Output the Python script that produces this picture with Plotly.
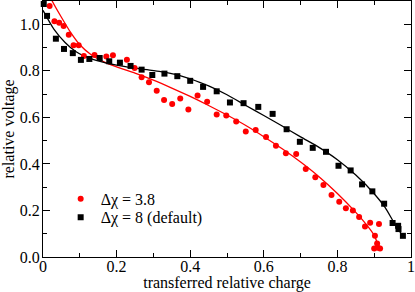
import plotly.graph_objects as go

# Data
red_x = [0.018, 0.031, 0.044, 0.056, 0.070, 0.083, 0.097, 0.111, 0.140, 0.172, 0.190,
         0.228, 0.249, 0.268, 0.288, 0.309, 0.329, 0.351, 0.373, 0.395, 0.420, 0.446,
         0.472, 0.498, 0.525, 0.551, 0.578, 0.606, 0.633, 0.660, 0.688, 0.714, 0.740,
         0.762, 0.784, 0.805, 0.823, 0.842, 0.859, 0.875, 0.889, 0.913, 0.902, 0.908,
         0.910, 0.900, 0.916]
red_y = [1.079, 1.013, 1.007, 0.993, 0.955, 0.910, 0.910, 0.864, 0.868, 0.861, 0.867,
         0.848, 0.812, 0.772, 0.751, 0.714, 0.675, 0.657, 0.681, 0.634, 0.694, 0.667,
         0.612, 0.608, 0.582, 0.539, 0.546, 0.516, 0.478, 0.446, 0.443, 0.378, 0.343,
         0.309, 0.266, 0.237, 0.209, 0.200, 0.172, 0.131, 0.147, 0.142, 0.091, 0.058,
         0.040, 0.037, 0.037]

black_x = [0.002, 0.011, 0.035, 0.057, 0.081, 0.103, 0.126, 0.154, 0.180, 0.209, 0.238,
           0.268, 0.297, 0.330, 0.365, 0.400, 0.435, 0.472, 0.508, 0.545, 0.585, 0.624,
           0.662, 0.698, 0.733, 0.769, 0.803, 0.836, 0.867, 0.895, 0.927, 0.950, 0.965,
           0.966, 0.978]
black_y = [1.087, 1.036, 0.938, 0.894, 0.876, 0.847, 0.851, 0.855, 0.841, 0.835, 0.821,
           0.805, 0.782, 0.788, 0.777, 0.757, 0.731, 0.712, 0.664, 0.661, 0.645, 0.615,
           0.549, 0.495, 0.469, 0.452, 0.392, 0.372, 0.312, 0.282, 0.229, 0.146, 0.134,
           0.120, 0.091]

red_fit_x = [0.015, 0.025, 0.05, 0.075, 0.10, 0.13, 0.16, 0.20, 0.25, 0.30, 0.35, 0.40,
             0.45, 0.50, 0.55, 0.60, 0.65, 0.70, 0.75, 0.80, 0.85, 0.88, 0.90, 0.912]
red_fit_y = [1.14, 1.10, 1.03, 0.965, 0.912, 0.87, 0.843, 0.817, 0.79, 0.76, 0.726, 0.69,
             0.651, 0.61, 0.566, 0.517, 0.465, 0.408, 0.345, 0.273, 0.192, 0.137, 0.093, 0.045]

black_fit_x = [0.0, 0.03, 0.06, 0.09, 0.13, 0.17, 0.22, 0.27, 0.32, 0.36, 0.40, 0.45,
               0.50, 0.55, 0.60, 0.65, 0.70, 0.75, 0.80, 0.85, 0.90, 0.93, 0.95, 0.965, 0.978]
black_fit_y = [1.06, 0.978, 0.922, 0.882, 0.852, 0.834, 0.819, 0.807, 0.797, 0.785, 0.765,
               0.735, 0.697, 0.652, 0.608, 0.563, 0.516, 0.471, 0.418, 0.352, 0.272, 0.212,
               0.158, 0.12, 0.09]

x_ticks = [0, 0.2, 0.4, 0.6, 0.8, 1]
x_tick_labels = ["0", "0.2", "0.4", "0.6", "0.8", "1"]
y_ticks = [0.0, 0.2, 0.4, 0.6, 0.8, 1.0]
y_tick_labels = ["0.0", "0.2", "0.4", "0.6", "0.8", "1.0"]

FONT = "Liberation Serif"

fig = go.Figure()
fig.add_trace(go.Scatter(x=red_fit_x, y=red_fit_y, mode="lines",
                         line=dict(color="#ff0000", width=1.3, shape="spline", smoothing=0.6),
                         showlegend=False, hoverinfo="skip"))
fig.add_trace(go.Scatter(x=black_fit_x, y=black_fit_y, mode="lines",
                         line=dict(color="#000000", width=1.3, shape="spline", smoothing=0.6),
                         showlegend=False, hoverinfo="skip"))
fig.add_trace(go.Scatter(x=red_x, y=red_y, mode="markers", name="Δχ = 3.8",
                         marker=dict(color="#ff0000", size=6, symbol="circle"),
                         cliponaxis=False, legend="legend"))
fig.add_trace(go.Scatter(x=black_x, y=black_y, mode="markers", name="Δχ = 8 (default)",
                         marker=dict(color="#000000", size=6, symbol="square"),
                         cliponaxis=False, legend="legend2"))

axis_common = dict(
    showline=True, linecolor="black", linewidth=1.2, mirror="ticks",
    ticks="inside", ticklen=7, tickwidth=1, tickcolor="black",
    showgrid=False, zeroline=False, automargin=False,
    tickfont=dict(family=FONT, size=16, color="black"),
    minor=dict(ticks="inside", ticklen=4, tickwidth=1, tickcolor="black", dtick=0.1),
)

fig.update_xaxes(range=[0, 1], tickvals=x_ticks, ticktext=x_tick_labels,
                 ticklabelstandoff=-5,
                 title=dict(text="transferred relative charge", standoff=4,
                            font=dict(family=FONT, size=16, color="black")),
                 **axis_common)
fig.update_yaxes(range=[0, 1.1], tickvals=y_ticks, ticktext=y_tick_labels,
                 ticklabelstandoff=-1,
                 title=dict(text="relative voltage",
                            font=dict(family=FONT, size=16, color="black")),
                 **axis_common)

legend_common = dict(xanchor="left", yanchor="middle", bgcolor="rgba(0,0,0,0)",
                     itemwidth=30, font=dict(family=FONT, size=16, color="black"))

fig.update_layout(
    width=415, height=292,
    margin=dict(l=43, r=4, t=1, b=35),
    paper_bgcolor="white", plot_bgcolor="white",
    font=dict(family=FONT, size=16, color="black"),
    legend=dict(x=0.048, y=0.227, **legend_common),
    legend2=dict(x=0.048, y=0.155, **legend_common),
    showlegend=True,
)

fig.write_html("out.html", config={"displayModeBar": False},
               post_script="document.body.style.margin='0';")
